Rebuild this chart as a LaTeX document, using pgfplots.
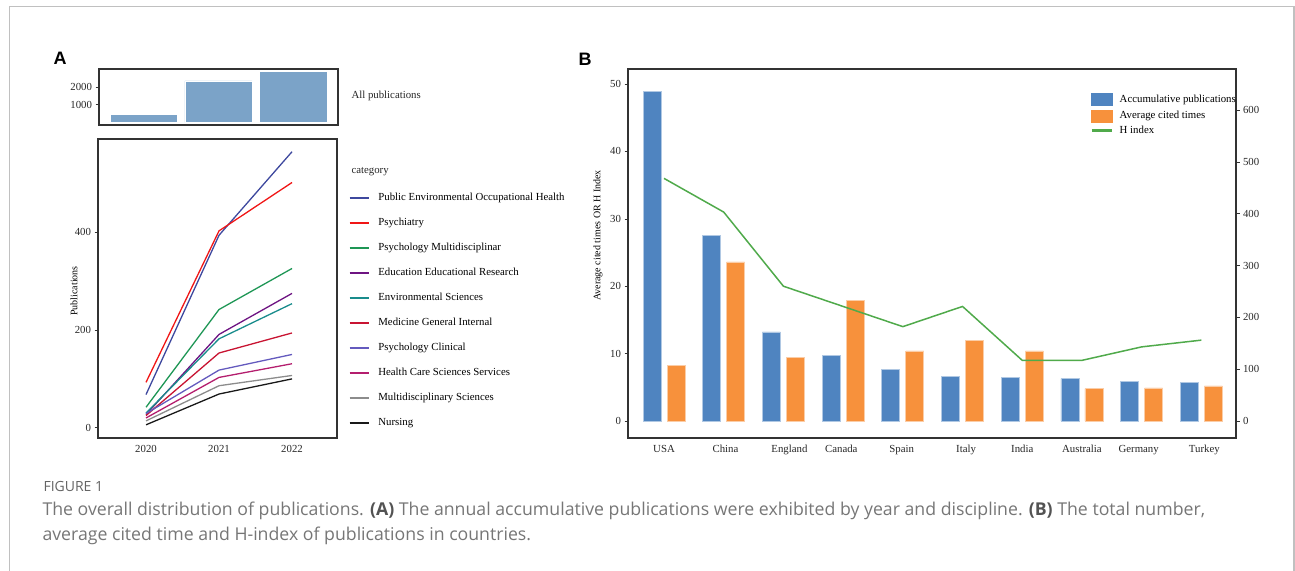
\documentclass[border=0pt]{standalone}
\usepackage{pgfplots}
\pgfplotsset{compat=1.18}
\usepackage{fontspec}
\setmainfont{Liberation Serif}
\newfontfamily\capfont{Open Sans}
\newfontfamily\letterfont{Liberation Sans}

\definecolor{cA}{RGB}{62,72,158}
\definecolor{cB}{RGB}{240,22,22}
\definecolor{cC}{RGB}{30,150,85}
\definecolor{cD}{RGB}{110,20,130}
\definecolor{cE}{RGB}{25,140,140}
\definecolor{cF}{RGB}{200,20,50}
\definecolor{cG}{RGB}{100,90,190}
\definecolor{cH}{RGB}{180,30,110}
\definecolor{cI}{RGB}{140,140,140}
\definecolor{cJ}{RGB}{25,25,25}
\definecolor{barA}{RGB}{123,163,200}
\definecolor{pubblue}{RGB}{79,132,192}
\definecolor{citorange}{RGB}{247,145,60}
\definecolor{hgreen}{RGB}{80,170,75}
\definecolor{framec}{RGB}{192,192,192}
\definecolor{captxt}{RGB}{118,118,118}
\definecolor{axisline}{RGB}{50,50,50}

\newcommand{\chartfont}{\fontsize{10.8}{12}\selectfont}

\pgfplotsset{
  base/.style={
    scale only axis, anchor=south west,
    axis line style={axisline, line width=1.1pt},
    tick style={axisline, line width=0.6pt},
    major tick length=3.5pt,
    tick align=outside,
    /pgf/number format/assume math mode=true,
    tick label style={font=\chartfont, text=black!85},
    label style={font=\chartfont, text=black!85},
    scaled ticks=false,
    /pgf/number format/1000 sep={},
  }
}

\pgfplotstableread{
x pub cited hidx
0 636 8.3 36
1 358 23.6 31
2 172 9.4 20
3 127 17.9 17
4 99 10.4 14
5 86 11.9 17
6 84 10.4 9
7 82 4.8 9
8 76 4.9 11
9 75 5.2 12
}\countrydata

\begin{document}
\begin{tikzpicture}[x=1pt,y=1pt]
\useasboundingbox (0,0) rectangle (1295,570);
\draw[framec, line width=1.4pt] (9.3,-5) -- (9.3,563.5) -- (1294,563.5) -- (1294,-5);

\node[font=\letterfont\bfseries\fontsize{18}{18}\selectfont] at (60,512) {A};
\node[font=\letterfont\bfseries\fontsize{18}{18}\selectfont] at (585,511) {B};

% ---------- Panel A top: all publications
\begin{axis}[base, at={(99pt,445pt)}, width=239pt, height=56pt,
  xmin=-0.6, xmax=2.6, ymin=-143, ymax=3003,
  xtick=\empty, ytick={1000,2000}, ytick pos=left]
\addplot[ybar, bar width=0.9, bar shift=0pt, fill=barA, draw=white, line width=0.6pt]
  coordinates {(0,440) (1,2330) (2,2860)};
\end{axis}
\node[anchor=west, font=\chartfont, text=black!85] at (348,474) {All publications};

% ---------- Panel A lines
\begin{axis}[base, at={(98pt,132pt)}, width=239pt, height=299pt,
  xmin=2019.342, xmax=2022.616, ymin=-21, ymax=591,
  xtick={2020,2021,2022}, ytick={0,200,400}, ytick pos=left,
  x tick style={draw=none},
  ylabel={Publications},
  every axis y label/.style={at={(axis description cs:-0.1004,0.4916)}, rotate=90, anchor=center},
  legend cell align=left,
  legend style={at={(axis description cs:1.050,0.8183)}, anchor=north west,
    draw=none, fill=none, inner sep=0pt, outer sep=0pt, row sep=16pt,
    font=\chartfont,
    nodes={inner sep=0pt, text height=7pt, text depth=2pt}},
  legend image code/.code={\draw[line width=1.4pt, #1] (0pt,0pt) -- (19pt,0pt);},
  /tikz/every odd column/.append style={column sep=9pt},
  every axis plot/.append style={line width=1.3pt},
]
\addplot[color=cA] coordinates {(2020,68) (2021,394) (2022,565)};
\addplot[color=cB] coordinates {(2020,93) (2021,403) (2022,502)};
\addplot[color=cC] coordinates {(2020,42) (2021,242) (2022,326)};
\addplot[color=cD] coordinates {(2020,27) (2021,191) (2022,275)};
\addplot[color=cE] coordinates {(2020,30) (2021,182) (2022,254)};
\addplot[color=cF] coordinates {(2020,25) (2021,153) (2022,194)};
\addplot[color=cG] coordinates {(2020,29) (2021,118) (2022,150)};
\addplot[color=cH] coordinates {(2020,20) (2021,103) (2022,131)};
\addplot[color=cI] coordinates {(2020,14) (2021,86) (2022,107)};
\addplot[color=cJ] coordinates {(2020,6) (2021,69) (2022,100)};
\legend{Public Environmental Occupational Health, Psychiatry, Psychology Multidisciplinar,
  Education Educational Research, Environmental Sciences, Medicine General Internal,
  Psychology Clinical, Health Care Sciences Services, Multidisciplinary Sciences, Nursing}
\end{axis}
\node[anchor=west, font=\chartfont, text=black!85] at (348,398) {category};

% ---------- Panel B right axis (publications)
\begin{axis}[base, at={(628pt,132pt)}, width=608pt, height=369pt,
  xmin=-0.603, xmax=9.58, ymin=-32.8, ymax=679.5,
  axis x line=none, axis y line*=right, ytick pos=right,
  ytick={0,100,...,600}]
\addplot[ybar, bar width=0.3015, bar shift=-0.201, fill=pubblue, draw=pubblue!45!white, line width=0.7pt]
  table[x=x, y=pub] {\countrydata};
\end{axis}

% ---------- Panel B left axis
\begin{axis}[base, at={(628pt,132pt)}, width=608pt, height=369pt,
  xmin=-0.603, xmax=9.58, ymin=-2.52, ymax=52.23,
  xtick={0,1.03,2.1,2.97,3.98,5.06,6.0,7.0,7.95,9.05},
  xticklabels={USA,China,England,Canada,Spain,Italy,India,Australia,Germany,Turkey},
  x tick style={draw=none},
  ytick={0,10,...,50}, ytick pos=left,
  ylabel={Average cited times OR H Index},
  every axis y label/.style={at={(axis description cs:-0.0493,0.549)}, rotate=90, anchor=center},
  legend style={at={(axis description cs:0.7599,0.934)}, anchor=north west,
    draw=none, fill=none, inner sep=0pt, outer sep=0pt, row sep=4pt,
    font=\chartfont,
    nodes={inner sep=0pt, text height=7pt, text depth=2pt}},
  legend cell align=left,
  /tikz/every odd column/.append style={column sep=6pt},
]
\addlegendimage{legend image code/.code={\fill[pubblue] (0pt,-6pt) rectangle (20.7pt,6pt);}}
\addplot[ybar, bar width=0.3015, bar shift=0.201, fill=citorange, draw=citorange!45!white, line width=0.7pt,
  legend image code/.code={\fill[citorange] (0pt,-6pt) rectangle (20.7pt,6pt);}]
  table[x=x, y=cited] {\countrydata};
\addplot[hgreen, line width=1.5pt,
  legend image code/.code={\draw[hgreen, line width=3pt] (0pt,0pt) -- (20.7pt,0pt);}]
  table[x=x, y=hidx] {\countrydata};
\legend{Accumulative publications, Average cited times, H index}
\end{axis}

% ---------- Caption
\node[anchor=base west, font=\capfont\fontsize{14}{16}\selectfont, text=captxt!85!black] at (40,78) {FIGURE 1};
\node[anchor=base west, font=\capfont\fontsize{17.7}{20}\selectfont, text=captxt] at (39,54)
  {The overall distribution of publications. {\bfseries\color{captxt!70!black}(A)} The annual accumulative publications were exhibited by year and discipline. {\bfseries\color{captxt!70!black}(B)} The total number,};
\node[anchor=base west, font=\capfont\fontsize{17.7}{20}\selectfont, text=captxt] at (39,30)
  {average cited time and H-index of publications in countries.};
\end{tikzpicture}
\end{document}
